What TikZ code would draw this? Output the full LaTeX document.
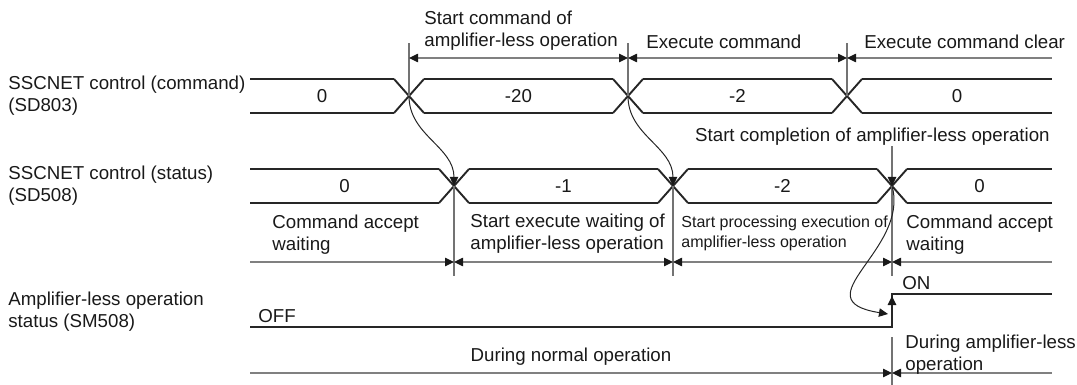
\documentclass[tikz,border=0pt]{standalone}
\usepackage{fontspec}
\setmainfont{Liberation Sans}
\usetikzlibrary{arrows.meta}

\begin{document}
\begin{tikzpicture}[
    x=0.5pt, y=-0.5pt,
    sig/.style={draw=black!85, line width=0.95pt},
    dim/.style={draw=black!50, line width=0.6pt},
    tickln/.style={draw=black!55, line width=0.6pt},
    dimtip/.tip={Triangle[length=4.5pt,width=4.2pt,color=black!90]},
    curv/.style={draw=black!85, line width=0.5pt, -{dimtip}},
    lbl/.style={font=\fontsize{9.35}{11}\selectfont, inner sep=0pt, anchor=west, align=left, text=black!90},
    small/.style={lbl, font=\fontsize{8}{10}\selectfont},
    val/.style={font=\fontsize{9.35}{11}\selectfont, inner sep=0pt, text=black!90}
]
\useasboundingbox (0,0) rectangle (1077,385);

% signal names
\node[lbl] (lcmd) at (8,96) {SSCNET control (command)\\(SD803)};
\node[lbl] (lsts) at (8,186) {SSCNET control (status)\\(SD508)};
\node[lbl] (lsm) at (8,312) {Amplifier-less operation\\status (SM508)};

% SD803 bus
\foreach \a/\b/\v in {250/394/0, 424/613/-20, 643/832/-2, 862/1052/0}{
  \draw[sig] (\a,79) -- (\b,79) (\a,113) -- (\b,113);
  \node[val] at ({(\a+\b)/2},96) {\v};
}
\foreach \c in {409,628,847}{
  \draw[sig] (\c-15,79) -- (\c+15,113) (\c-15,113) -- (\c+15,79);
}
\coordinate (cmd1) at (409,96);
\coordinate (cmd2) at (628,96);
\coordinate (cmd3) at (847,96);

% SD508 bus
\foreach \a/\b/\v in {250/439/0, 469/658/-1, 688/877/-2, 907/1052/0}{
  \draw[sig] (\a,169) -- (\b,169) (\a,203) -- (\b,203);
  \node[val] at ({(\a+\b)/2},186) {\v};
}
\foreach \c in {454,673,892}{
  \draw[sig] (\c-15,169) -- (\c+15,203) (\c-15,203) -- (\c+15,169);
}
\coordinate (sts1) at (454,186);
\coordinate (sts2) at (673,186);
\coordinate (sts3) at (892,186);

% SM508
\coordinate (offend) at (892,327);
\coordinate (ontop) at (892,294);
\coordinate (hit) at (888,314);
\draw[sig] (250,327) -- (offend) -- (ontop) -- (1052,294);
\draw[sig, -{dimtip}] (offend) -- (892,296);
\node[lbl] (off) at (258,316) {OFF};
\node[lbl] (on) at (902,283) {ON};

% top intervals
\foreach \c in {cmd1,cmd2,cmd3}
  \draw[tickln] (\c) -- ++(0,-53);
\draw[dim, {dimtip}-{dimtip}] (409,58) -- (628,58);
\draw[dim, {dimtip}-{dimtip}] (628,58) -- (847,58);
\draw[dim, {dimtip}-] (847,58) -- (1052,58);
\node[lbl] (tstart) at (424,31) {Start command of\\amplifier-less operation};
\node[lbl] (texec) at (646,42) {Execute command};
\node[lbl] (tclr) at (864,42) {Execute command clear};

% status intervals
\foreach \c in {sts1,sts2,sts3}
  \draw[tickln] (\c) -- ++(0,90);
\draw[dim, -{dimtip}] (250,262) -- (454,262);
\draw[dim, {dimtip}-{dimtip}] (454,262) -- (673,262);
\draw[dim, {dimtip}-{dimtip}] (673,262) -- (892,262);
\draw[dim, {dimtip}-] (892,262) -- (1052,262);
\node[lbl] (wait1) at (272,235) {Command accept\\waiting};
\node[lbl] (exwait) at (470,234) {Start execute waiting of\\amplifier-less operation};
\node[small] (proc) at (681,233) {Start processing execution of\\amplifier-less operation};
\node[lbl] (wait2) at (906,235) {Command accept\\waiting};

\node[lbl, anchor=east] (cmpl) at (1050,137) {Start completion of amplifier-less operation};
\draw[tickln, -{dimtip}] (sts3 |- cmpl.south) -- (sts3);

% operation intervals
\draw[tickln] (892,337) -- (892,385);
\draw[dim, -{dimtip}] (250,373) -- (892,373);
\draw[dim, {dimtip}-] (892,373) -- (1052,373);
\node[lbl, anchor=center] (norm) at (571,357) {During normal operation};
\node[lbl] (amp) at (905,355) {During amplifier-less\\operation};

% causal arrows
\draw[curv] (cmd1) to[out=-90, in=90] (sts1);
\draw[curv] (cmd2) to[out=-90, in=90] (sts2);
\draw[curv] (sts3) .. controls (910,250) and (800,300) .. (hit);
\end{tikzpicture}
\end{document}
